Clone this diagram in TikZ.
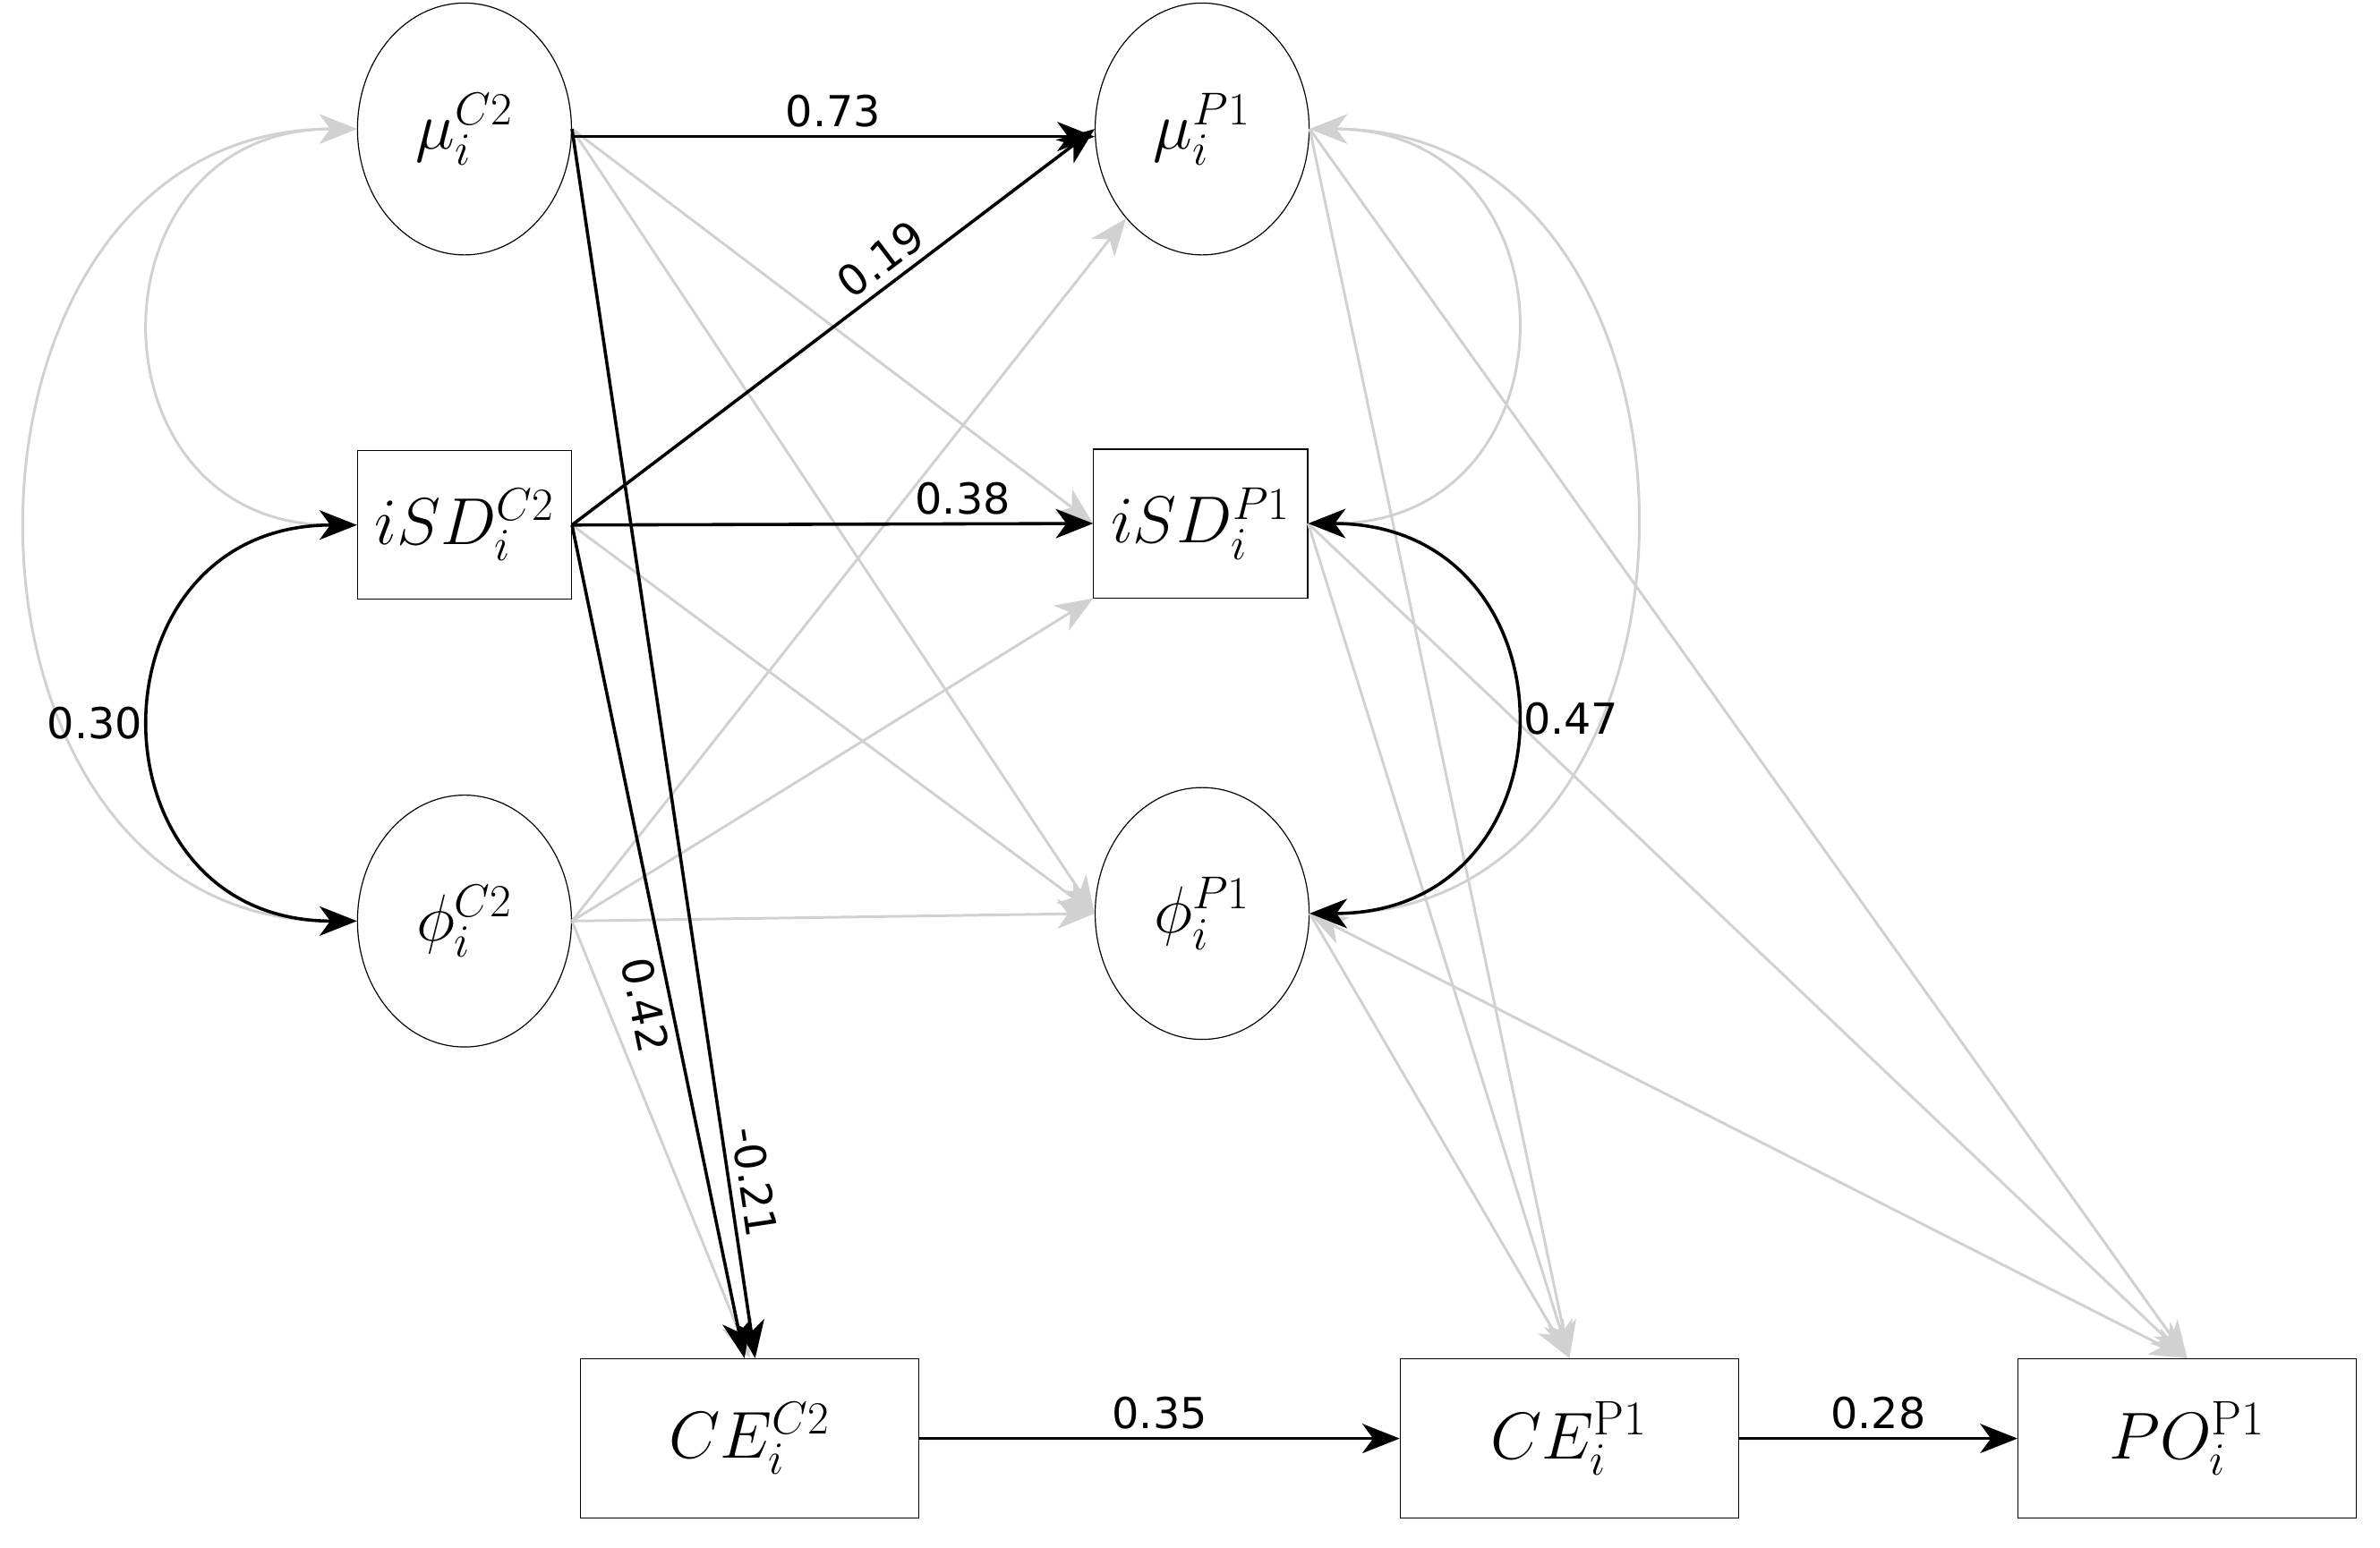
\documentclass[tikz,border=0pt]{standalone}
\usepackage{fontspec}
\newfontfamily\labelfont{DejaVu Sans}
\usetikzlibrary{shapes.geometric,arrows.meta}
\begin{document}
\begin{tikzpicture}[x=0.02cm, y=-0.02cm, >={Stealth[length=14pt,width=11pt,inset=4pt]}]
    \tikzstyle{latent} = [ellipse, draw, thin, minimum width=2.82cm, minimum height=3.32cm, inner sep=0pt, font=\fontsize{24}{26}\selectfont]
    \tikzstyle{observed} = [rectangle, draw, thin, minimum width=2.82cm, minimum height=1.96cm, inner sep=0pt, font=\fontsize{24}{26}\selectfont]
    \tikzstyle{outcome} = [rectangle, draw, thin, minimum width=4.46cm, minimum height=2.1cm, inner sep=0pt, font=\fontsize{26}{28}\selectfont]
    \tikzstyle{path} = [->, black, line width=1.2pt]
    \tikzstyle{weak} = [->, black!18, line width=1pt]
    \tikzstyle{coef} = [font=\labelfont\fontsize{16}{18}\selectfont, inner sep=3pt]
    \useasboundingbox (0,0) rectangle (1568,1020);

    % Time point C2
    \node [latent] (muC) at (306,85) {$\mu_i^{C2}$};
    \node [observed] (sdC) at (306,346) {$iSD_i^{C2}$};
    \node [latent] (phiC) at (306,607) {$\phi_i^{C2}$};

    % Time point P1
    \node [latent] (muP) at (792,85) {$\mu_i^{P1}$};
    \node [observed] (sdP) at (791,345) {$iSD_i^{P1}$};
    \node [latent] (phiP) at (792,602) {$\phi_i^{P1}$};

    % Outcomes
    \node [outcome] (ceC) at (494,948) {$CE_i^{C2}$};
    \node [outcome] (ceP) at (1034,948) {$CE_i^{\mathrm{P1}}$};
    \node [outcome] (poP) at (1441,948) {$PO_i^{\mathrm{P1}}$};

    % Non-significant paths
    \draw [weak] (muC.east) -- (sdP.west);
    \draw [weak] (muC.east) -- (phiP.west);
    \draw [weak] (sdC.east) -- (phiP.west);
    \draw [weak] (phiC.east) -- (muP.south west);
    \draw [weak] (phiC.east) -- (sdP.south west);
    \draw [weak] (phiC.east) -- (phiP.west);
    \draw [weak] (phiC.east) -- (ceC.north);
    \draw [weak] (muP.east) -- (ceP.north);
    \draw [weak] (muP.east) -- (poP.north);
    \draw [weak] (sdP.east) -- (ceP.north);
    \draw [weak] (sdP.east) -- (poP.north);
    \draw [weak] (phiP.east) -- (ceP.north);
    \draw [weak, <->] (phiP.east) -- (poP.north);

    % Non-significant covariances
    \draw [weak, <->] (muC.west) .. controls +(-180,0) and +(-180,0) .. (sdC.west);
    \draw [weak, <->] (muC.west) .. controls +(-288,0) and +(-288,0) .. (phiC.west);
    \draw [weak, <->] (muP.east) .. controls +(180,0) and +(180,0) .. (sdP.east);
    \draw [weak, <->] (muP.east) .. controls +(284,0) and +(284,0) .. (phiP.east);

    % Significant paths
    \draw [path] (muC.east |- 0,90) -- node [coef, above] {0.73} (muP.west |- 0,90);
    \draw [path] (sdC.east) -- node [coef, above, sloped, pos=0.62] {0.19} (muP.west);
    \draw [path] (sdC.east) -- node [coef, above, pos=0.75] {0.38} (sdP.west);
    \draw [path] (sdC.east) -- node [coef, below, sloped, pos=0.57] {0.42} ([xshift=-2]ceC.north);
    \draw [path] (muC.east) -- node [coef, above, sloped, pos=0.86] {-0.21} ([xshift=2]ceC.north);
    \draw [path] (ceC) -- node [coef, above] {0.35} (ceP);
    \draw [path] (ceP) -- node [coef, above] {0.28} (poP);

    % Significant covariances
    \draw [path, <->] (sdC.west) .. controls +(-180,0) and +(-180,0) .. node [coef, left] {0.30} (phiC.west);
    \draw [path, <->] (sdP.east) .. controls +(180,0) and +(180,0) .. node [coef, right] {0.47} (phiP.east);
\end{tikzpicture}
\end{document}
